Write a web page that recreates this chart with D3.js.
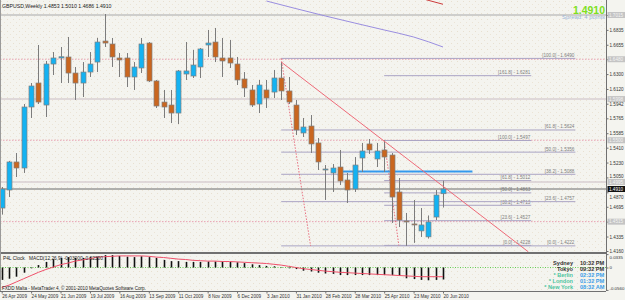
<!DOCTYPE html>
<html>
<head>
<meta charset="utf-8">
<script src="https://cdn.jsdelivr.net/npm/d3@7"></script>
<style>
  body { margin: 0; background: #fff; }
  svg { display: block; font-family: "Liberation Sans", Arial, sans-serif; }
</style>
</head>
<body>
<svg id="chart" width="625" height="300"></svg>
<script>
// GBPUSD weekly, 26 Apr 2009 .. 20 Jun 2010 (one bar per week)
var opens  = [1.4680,1.4898,1.5237,1.5164,1.5902,1.6192,1.5926,1.6422,1.6495,1.6507,
              1.6313,1.6192,1.6325,1.6446,1.6700,1.6664,1.6495,1.6495,1.6265,1.6374,
              1.6676,1.6217,1.5962,1.5926,1.5829,1.6301,1.6277,1.6386,1.6652,1.6688,
              1.6495,1.6495,1.6422,1.6241,1.6108,1.5938,1.6108,1.6083,1.6253,1.6096,
              1.5926,1.5588,1.5672,1.5467,1.5140,1.5104,1.5176,1.5019,1.4910,1.5285,
              1.5455,1.5273,1.5382,1.5321,1.4874,1.4523,1.4487,1.4403,1.4331,1.4571,1.4853];
var highs  = [1.4934,1.5250,1.5345,1.5938,1.6192,1.6652,1.6459,1.6567,1.6628,1.6749,
              1.6386,1.6446,1.6567,1.6738,1.7027,1.6737,1.6555,1.6555,1.6446,1.6737,
              1.6688,1.6229,1.6108,1.6108,1.6350,1.6688,1.6592,1.6616,1.6834,1.6858,
              1.6737,1.6713,1.6507,1.6325,1.6168,1.6229,1.6229,1.6350,1.6446,1.6265,
              1.5987,1.5769,1.5805,1.5527,1.5200,1.5212,1.5382,1.5104,1.5297,1.5467,
              1.5515,1.5467,1.5497,1.5345,1.5043,1.4620,1.4777,1.4680,1.4590,1.4898,1.5010];
var lows   = [1.4600,1.4813,1.5055,1.5104,1.5769,1.5938,1.5781,1.6289,1.6192,1.6192,
              1.5987,1.6023,1.6265,1.6325,1.6628,1.6386,1.6265,1.6144,1.6108,1.6313,
              1.6204,1.5890,1.5769,1.5708,1.5696,1.6229,1.6253,1.6253,1.6507,1.6446,
              1.6265,1.6374,1.6168,1.6023,1.5902,1.5829,1.5890,1.6011,1.5987,1.5938,
              1.5563,1.5539,1.5346,1.5140,1.4777,1.4874,1.4958,1.4741,1.4874,1.5116,
              1.5334,1.5176,1.5116,1.4499,1.4450,1.4222,1.4258,1.4330,1.4310,1.4535,1.4686];
var closes = [1.4910,1.5237,1.5164,1.5902,1.6156,1.5962,1.6422,1.6495,1.6510,1.6313,
              1.6192,1.6325,1.6422,1.6688,1.6676,1.6507,1.6471,1.6265,1.6386,1.6664,
              1.6217,1.5914,1.5902,1.5829,1.6338,1.6338,1.6410,1.6604,1.6676,1.6507,
              1.6459,1.6434,1.6229,1.6132,1.5926,1.6168,1.6011,1.6253,1.6096,1.5962,
              1.5624,1.5660,1.5455,1.5237,1.5152,1.5164,1.5007,1.4898,1.5200,1.5370,
              1.5382,1.5370,1.5297,1.4813,1.4535,1.4511,1.4475,1.4475,1.4511,1.4837,1.4910];

// MACD(12,26,9): histogram (main) and signal, one value per bar
var macdMain = [-0.031,-0.028,-0.023,-0.013,-0.002,0.006,0.014,0.021,0.024,0.026,
                0.024,0.024,0.026,0.027,0.031,0.031,0.029,0.027,0.026,0.028,
                0.026,0.024,0.019,0.016,0.016,0.014,0.014,0.014,0.015,0.015,
                0.015,0.014,0.013,0.011,0.008,0.006,0.004,0.003,0.001,-0.002,
                -0.004,-0.008,-0.010,-0.013,-0.015,-0.016,-0.019,-0.019,-0.019,-0.019,
                -0.019,-0.019,-0.019,-0.019,-0.021,-0.027,-0.029,-0.031,-0.032,-0.031,-0.030];
var macdSignal = [-0.050,-0.044,-0.036,-0.028,-0.020,-0.012,-0.005,0.001,0.007,0.011,
                  0.016,0.019,0.022,0.026,0.027,0.028,0.029,0.029,0.029,0.029,
                  0.028,0.026,0.025,0.023,0.021,0.020,0.018,0.017,0.016,0.016,
                  0.015,0.015,0.014,0.013,0.012,0.011,0.010,0.008,0.006,0.003,
                  0.000,-0.003,-0.005,-0.007,-0.009,-0.0105,-0.012,-0.013,-0.014,-0.015,
                  -0.016,-0.017,-0.018,-0.019,-0.020,-0.021,-0.022,-0.023,-0.023,-0.023,-0.023];
var macdTicks = [0.0335, 0, -0.0560];

// time axis labels (every 4th bar)
var dateBars   = [0,4,8,12,16,20,24,28,32,36,40,44,48,52,56,60];
var dateLabels = ["26 Apr 2009","24 May 2009","21 Jun 2009","19 Jul 2009","16 Aug 2009",
                  "13 Sep 2009","11 Oct 2009","8 Nov 2009","6 Dec 2009","3 Jan 2010",
                  "31 Jan 2010","28 Feb 2010","28 Mar 2010","25 Apr 2010","23 May 2010","20 Jun 2010"];

// price scale labels on the right
var priceTicks = [1.7015,1.6835,1.6655,1.6480,1.6300,1.6120,1.5942,1.5765,1.5585,
                  1.5410,1.5230,1.5050,1.4870,1.4695,1.4515,1.4335,1.4160];

// horizontal line objects (price, style)
var hLinePrices = [1.7015, 1.6480, 1.5998, 1.5500, 1.4995, 1.4515];
var hLineStyles = ["solid", "dot", "light", "dot", "light", "dot"];

// Fibonacci retracements: levels, prices, first/last bar of the lines
var fibALevels = ["0.0","23.6","38.2","50.0","61.8","100.0","161.8"];
var fibAPrices = [1.4228,1.4527,1.4713,1.4863,1.5012,1.5497,1.6281];
var fibABars = [52, 72];
var fibBLevels = ["0.0","23.6","38.2","50.0","61.8","100.0"];
var fibBPrices = [1.4222,1.4757,1.5088,1.5356,1.5624,1.6490];
var fibBBars = [38, 78];

// trend lines and the slow moving average
var trendBars = [38, 71.6], trendPrices = [1.6446, 1.4150];
var trend2Bars = [57.7, 60], trend2Prices = [1.7200, 1.7145];
var blueLineBars = [46.4, 64], blueLinePrice = 1.5122;
var maBars = [36, 44, 52, 56, 60], maValues = [1.7184, 1.7003, 1.6834, 1.6749, 1.6628];

var sessions = [["Sydney","10:32 PM"],["Tokyo","09:32 PM"],["* Berlin","02:32 PM"],
                ["* London","01:32 PM"],["* New York","08:32 AM"]];

var svg = d3.select("#chart");
var plotR = 606, mainB = 252, subT = 254, subB = 291;

var x = d3.scaleLinear().domain([0, 60]).range([1.7, 443]);
var y = d3.scaleLinear().domain([1.4160, 1.7015]).range([251, 15]);
var yM = d3.scaleLinear().domain([-0.05875, 0.03375]).range([291, 254]);

// background with faint speckle
var defs = svg.append("defs");
var pat = defs.append("pattern").attr("id", "speck").attr("width", 6).attr("height", 6)
  .attr("patternUnits", "userSpaceOnUse");
pat.append("rect").attr("width", 6).attr("height", 6).attr("fill", "#f4f4ef");
pat.append("rect").attr("x", 1).attr("y", 1).attr("width", 1).attr("height", 1).attr("fill", "#e8e0d0");
pat.append("rect").attr("x", 4).attr("y", 4).attr("width", 1).attr("height", 1).attr("fill", "#ebe4d6");
defs.append("clipPath").attr("id", "mainClip").append("rect")
  .attr("x", 0).attr("y", 0).attr("width", plotR).attr("height", mainB);

svg.append("rect").attr("width", 625).attr("height", 300).attr("fill", "#f4f4ef");
svg.append("rect").attr("width", plotR).attr("height", subB).attr("fill", "url(#speck)");

var main = svg.append("g").attr("clip-path", "url(#mainClip)");

// horizontal lines
hLinePrices.forEach(function (p, i) {
  var st = hLineStyles[i];
  main.append("line")
    .attr("x1", 0).attr("x2", plotR).attr("y1", y(p)).attr("y2", y(p))
    .attr("stroke", st == "dot" ? "#e8a0b0" : (st == "light" ? "#d8cfd2" : "#a8a8a8"))
    .attr("stroke-width", st == "light" ? 1.5 : 1)
    .attr("stroke-dasharray", st == "dot" ? "1.5,1.5" : null);
});

// fibonacci levels
function drawFib(levels, prices, bars) {
  var x1 = x(bars[0]), x2 = x(bars[1]);
  prices.forEach(function (p, i) {
    main.append("line").attr("x1", x1).attr("x2", x2).attr("y1", y(p)).attr("y2", y(p))
      .attr("stroke", "#aaa4c4").attr("stroke-width", 1);
    main.append("text").attr("x", x2 - 1).attr("y", y(p) - 1.5)
      .attr("text-anchor", "end").attr("font-size", 4.6).attr("fill", "#808080")
      .text("[" + levels[i] + "] - " + p.toFixed(4));
  });
}
drawFib(fibALevels, fibAPrices, fibABars);
drawFib(fibBLevels, fibBPrices, fibBBars);

// fibo diagonals (dashed)
main.append("line").attr("x1", x(fibABars[0])).attr("y1", y(fibAPrices[5]))
  .attr("x2", x(54)).attr("y2", y(fibAPrices[0]))
  .attr("stroke", "#e87080").attr("stroke-dasharray", "1.5,1.5");
main.append("line").attr("x1", x(fibBBars[0])).attr("y1", y(fibBPrices[5]))
  .attr("x2", x(42)).attr("y2", y(fibBPrices[0]))
  .attr("stroke", "#e87080").attr("stroke-dasharray", "1.5,1.5");

// blue horizontal segment
main.append("line").attr("x1", x(blueLineBars[0])).attr("x2", x(blueLineBars[1]))
  .attr("y1", y(blueLinePrice)).attr("y2", y(blueLinePrice))
  .attr("stroke", "#3399ee").attr("stroke-width", 2);

// current price line
main.append("line").attr("x1", 0).attr("x2", plotR)
  .attr("y1", y(closes[60])).attr("y2", y(closes[60]))
  .attr("stroke", "#6a6a6a").attr("stroke-width", 1);

// moving average
main.append("path").datum(maBars.map(function (b, i) { return [b, maValues[i]]; }))
  .attr("fill", "none").attr("stroke", "#9a8ee0").attr("stroke-width", 1)
  .attr("d", d3.line().x(function (d) { return x(d[0]); }).y(function (d) { return y(d[1]); }).curve(d3.curveMonotoneX));

// candles
var idx = d3.range(opens.length);
main.selectAll(".wick").data(idx).enter().append("line")
  .attr("x1", function (i) { return Math.round(x(i)) + 0.5; })
  .attr("x2", function (i) { return Math.round(x(i)) + 0.5; })
  .attr("y1", function (i) { return y(highs[i]); })
  .attr("y2", function (i) { return y(lows[i]); })
  .attr("stroke", "#7c7c7c").attr("stroke-width", 1);
main.selectAll(".body").data(idx).enter().append("rect")
  .attr("x", function (i) { return Math.round(x(i)) - 2; })
  .attr("width", 5)
  .attr("y", function (i) { return y(Math.max(opens[i], closes[i])); })
  .attr("height", function (i) { return Math.max(1, Math.abs(y(opens[i]) - y(closes[i]))); })
  .attr("fill", function (i) { return closes[i] >= opens[i] ? "#14b2f2" : "#c9661f"; })
  .attr("stroke", "#808080").attr("stroke-width", 0.7);

// trend lines
main.append("line").attr("x1", x(trendBars[0])).attr("y1", y(trendPrices[0]))
  .attr("x2", x(trendBars[1])).attr("y2", y(trendPrices[1]))
  .attr("stroke", "#ee6a78").attr("stroke-width", 1);
main.append("line").attr("x1", x(trend2Bars[0])).attr("y1", y(trend2Prices[0]))
  .attr("x2", x(trend2Bars[1])).attr("y2", y(trend2Prices[1]))
  .attr("stroke", "#cc3b3b").attr("stroke-width", 1);

// texts in main window
svg.append("text").attr("x", 2).attr("y", 8).attr("font-size", 5.2).attr("fill", "#222")
  .text("GBPUSD,Weekly  1.4853 1.5010 1.4686 1.4910");
svg.append("text").attr("x", 605).attr("y", 13.5).attr("text-anchor", "end")
  .attr("font-size", 10.5).attr("font-weight", "bold").attr("fill", "#7ee01e")
  .text(closes[60].toFixed(4));
svg.append("text").attr("x", 605).attr("y", 19).attr("text-anchor", "end")
  .attr("font-size", 5.9).attr("fill", "#9cb4d8").text("Spread: 4 points");

// separators and frame
svg.append("line").attr("x1", 0).attr("x2", plotR).attr("y1", 253).attr("y2", 253)
  .attr("stroke", "#707070").attr("stroke-width", 2);
svg.append("line").attr("x1", 0).attr("x2", plotR).attr("y1", subB + 0.5).attr("y2", subB + 0.5)
  .attr("stroke", "#707070").attr("stroke-width", 1);
svg.append("line").attr("x1", plotR + 0.5).attr("x2", plotR + 0.5).attr("y1", 0).attr("y2", subB)
  .attr("stroke", "#707070").attr("stroke-width", 1);
svg.append("line").attr("x1", 0.5).attr("x2", 0.5).attr("y1", 0).attr("y2", subB)
  .attr("stroke", "#9a9a9a").attr("stroke-width", 1);

// right price axis
var hideTicks = hLinePrices.map(function (p) { return p.toFixed(4); });
var axisR = svg.append("g").attr("transform", "translate(" + (plotR + 0.5) + ",0)")
  .call(d3.axisRight(y).tickValues(priceTicks).tickSize(2).tickPadding(1).tickFormat(d3.format(".4f")));
axisR.select(".domain").remove();
axisR.selectAll("line").attr("stroke", "#707070");
axisR.selectAll("text").attr("font-size", 4.6).attr("fill", "#333")
  .attr("font-family", "Liberation Sans, Arial, sans-serif")
  .attr("dy", function (d) {
    // nudge labels sitting right under a price tag
    if (Math.abs(y(d) - y(closes[60])) < 4) return "1.3em";
    if (Math.abs(y(d) - y(1.4995)) < 6) return "0.05em";
    return "0.32em";
  })
  .style("display", function (d) { return hideTicks.indexOf(d.toFixed(4)) >= 0 ? "none" : null; });

// highlighted price tags of the horizontal lines
hLinePrices.forEach(function (p) {
  svg.append("rect").attr("x", plotR + 1.5).attr("y", y(p) - 3).attr("width", 17.5).attr("height", 6)
    .attr("fill", "#c4c4c4");
  svg.append("text").attr("x", plotR + 3).attr("y", y(p) + 1.6).attr("font-size", 4.6)
    .attr("fill", "#f4f4f4").text(p.toFixed(4));
});
svg.append("rect").attr("x", plotR + 1.5).attr("y", y(closes[60]) - 3).attr("width", 17.5).attr("height", 6)
  .attr("fill", "#111");
svg.append("text").attr("x", plotR + 3).attr("y", y(closes[60]) + 1.6).attr("font-size", 4.6)
  .attr("fill", "#fff").text(closes[60].toFixed(4));

// MACD sub-window
svg.append("line").attr("x1", 0).attr("x2", plotR).attr("y1", yM(0)).attr("y2", yM(0))
  .attr("stroke", "#66cc55").attr("stroke-dasharray", "1,1.5");
svg.selectAll(".hist").data(idx).enter().append("line")
  .attr("x1", function (i) { return Math.round(x(i)) + 0.5; })
  .attr("x2", function (i) { return Math.round(x(i)) + 0.5; })
  .attr("y1", yM(0))
  .attr("y2", function (i) { return yM(macdMain[i]); })
  .attr("stroke", "#111").attr("stroke-width", 1.6);
svg.append("path").datum(idx)
  .attr("fill", "none").attr("stroke", "#f0506a").attr("stroke-width", 1)
  .attr("d", d3.line().x(function (i) { return x(i); }).y(function (i) { return yM(macdSignal[i]); }));

svg.append("text").attr("x", 3).attr("y", 259.5).attr("font-size", 4.8).attr("fill", "#222").text("P4L Clock");
svg.append("text").attr("x", 29).attr("y", 259.5).attr("font-size", 4.8).attr("fill", "#222")
  .text("MACD(12,26,9) " + macdMain[60].toFixed(5) + " " + macdSignal[60].toFixed(5));
svg.append("text").attr("x", 2).attr("y", 290).attr("font-size", 4.6).attr("fill", "#222")
  .text("FXDD Malta - MetaTrader 4, \u00a9 2001-2010 MetaQuotes Software Corp.");

var axisM = svg.append("g").attr("transform", "translate(" + (plotR + 0.5) + ",0)")
  .call(d3.axisRight(yM).tickValues(macdTicks).tickSize(2).tickPadding(1)
    .tickFormat(function (d) { return d == 0 ? "0" : d.toFixed(4); }));
axisM.select(".domain").remove();
axisM.selectAll("line").attr("stroke", "#707070");
axisM.selectAll("text").attr("font-size", 4.4).attr("fill", "#333")
  .attr("font-family", "Liberation Sans, Arial, sans-serif")
  .attr("dy", function (d) { return d > 0 ? "0.9em" : (d < 0 ? "-0.2em" : "0.32em"); });

// session clock
sessions.forEach(function (s, i) {
  var yy = 265 + i * 6;
  var local = i < 2;
  svg.append("text").attr("x", 573).attr("y", yy).attr("text-anchor", "end")
    .attr("font-size", 5.6).attr("font-weight", "bold")
    .attr("fill", local ? "#333" : "#4cc4a0").text(s[0]);
  svg.append("text").attr("x", 580).attr("y", yy)
    .attr("font-size", 5.6).attr("font-weight", "bold")
    .attr("fill", local ? "#333" : "#3a9ee8").text(s[1]);
});

// time axis
var axisB = svg.append("g").attr("transform", "translate(0," + (subB + 0.5) + ")")
  .call(d3.axisBottom(x).tickValues(dateBars).tickSize(2).tickPadding(1)
    .tickFormat(function (d, i) { return dateLabels[i]; }));
axisB.select(".domain").remove();
axisB.selectAll("line").attr("stroke", "#707070");
axisB.selectAll("text").attr("font-size", 4.6).attr("fill", "#333").attr("text-anchor", "start")
  .attr("dx", 0).attr("font-family", "Liberation Sans, Arial, sans-serif");
</script>
</body>
</html>
